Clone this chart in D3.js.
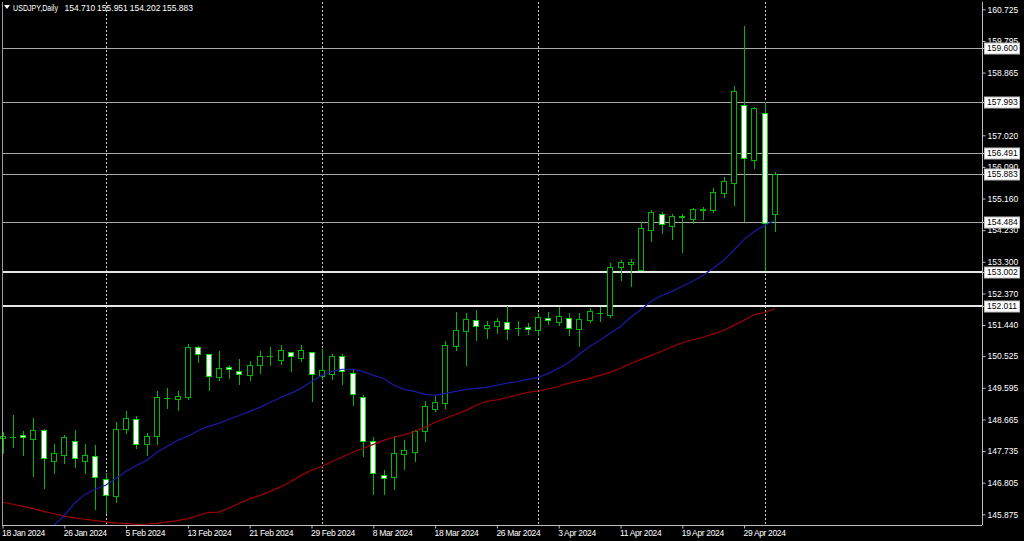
<!DOCTYPE html>
<html><head><meta charset="utf-8">
<script src="https://cdn.jsdelivr.net/npm/d3@7"></script>
<style>
html,body{margin:0;padding:0;background:#000;}
svg{display:block;}
text{font-family:"Liberation Sans",Arial,sans-serif;}
</style>
</head><body>
<svg id="chart" width="1024" height="541"></svg>
<script>
// ---------------- DATA ----------------
const dates = [
"2024-01-18","2024-01-19","2024-01-22","2024-01-23","2024-01-24","2024-01-25","2024-01-26","2024-01-29","2024-01-30","2024-01-31",
"2024-02-01","2024-02-02","2024-02-05","2024-02-06","2024-02-07","2024-02-08","2024-02-09","2024-02-12","2024-02-13","2024-02-14",
"2024-02-15","2024-02-16","2024-02-19","2024-02-20","2024-02-21","2024-02-22","2024-02-23","2024-02-26","2024-02-27","2024-02-28",
"2024-02-29","2024-03-01","2024-03-04","2024-03-05","2024-03-06","2024-03-07","2024-03-08","2024-03-11","2024-03-12","2024-03-13",
"2024-03-14","2024-03-15","2024-03-18","2024-03-19","2024-03-20","2024-03-21","2024-03-22","2024-03-25","2024-03-26","2024-03-27",
"2024-03-28","2024-03-29","2024-04-01","2024-04-02","2024-04-03","2024-04-04","2024-04-05","2024-04-08","2024-04-09","2024-04-10",
"2024-04-11","2024-04-12","2024-04-15","2024-04-16","2024-04-17","2024-04-18","2024-04-19","2024-04-22","2024-04-23","2024-04-24",
"2024-04-25","2024-04-26","2024-04-29","2024-04-30","2024-05-01","2024-05-02"];

const open = [
148.11,148.14,148.22,148.10,148.34,147.45,147.61,148.04,147.45,147.58,
146.90,146.42,148.39,148.68,147.93,148.19,149.30,149.26,149.32,150.79,
150.59,149.92,150.22,150.10,149.96,150.28,150.52,150.42,150.66,150.48,
150.64,149.95,150.01,150.52,150.04,149.32,148.02,147.04,146.97,147.65,
147.71,148.31,148.97,149.15,150.83,151.26,151.60,151.34,151.42,151.52,
151.34,151.38,151.28,151.65,151.53,151.66,151.32,151.59,151.80,151.73,
153.15,153.23,153.05,154.23,154.72,154.36,154.63,154.57,154.83,154.83,
155.32,155.62,157.90,156.28,157.68,154.71];
const high = [
148.29,148.80,148.31,148.72,148.39,147.95,148.22,148.34,147.93,147.92,
147.10,148.59,148.90,148.78,148.28,149.50,149.59,149.50,150.89,150.81,
150.60,150.67,150.26,150.45,150.39,150.68,150.78,150.85,150.66,150.85,
150.64,150.73,150.60,150.60,150.11,149.39,148.15,147.17,148.18,148.05,
148.36,149.20,149.35,150.96,151.82,151.78,151.87,151.56,151.64,151.99,
151.55,151.50,151.79,151.81,151.97,151.78,151.78,151.95,151.97,153.26,
153.34,153.39,154.47,154.81,154.76,154.72,154.72,154.88,154.91,155.48,
155.78,158.46,160.23,157.85,158.00,155.95];
const low = [
147.68,147.85,147.63,146.99,146.65,147.09,147.39,147.26,147.10,146.02,
145.92,146.23,148.26,147.81,147.63,147.93,149.01,148.93,149.26,150.35,
149.54,149.83,149.89,149.70,149.83,150.03,150.28,150.29,150.08,150.37,
149.22,149.86,149.84,149.71,149.10,147.58,146.48,146.48,146.63,147.22,
147.43,148.02,148.91,149.00,150.71,150.27,151.01,151.06,151.21,151.02,
151.16,151.17,151.15,151.46,151.45,151.14,150.81,151.54,151.56,151.68,
152.76,152.58,153.05,153.90,154.16,153.96,153.59,154.44,154.55,154.75,
155.21,154.96,154.49,156.06,153.05,154.20];
const close = [
148.17,148.15,148.15,148.36,147.52,147.67,148.15,147.52,147.62,146.97,
146.45,148.39,148.72,147.95,148.19,149.32,149.29,149.36,150.79,150.60,
149.94,150.18,150.16,150.01,150.28,150.53,150.53,150.72,150.53,150.72,
150.00,150.13,150.53,150.08,149.42,148.03,147.10,146.95,147.67,147.78,
148.31,149.07,149.17,150.86,151.28,151.61,151.42,151.43,151.55,151.33,
151.36,151.31,151.67,151.58,151.72,151.34,151.63,151.85,151.79,153.15,
153.29,153.29,154.28,154.75,154.42,154.66,154.64,154.84,154.85,155.34,
155.67,158.31,156.35,157.83,154.45,155.88];

// moving averages (blue = fast, red = slow)
const maFast = [
144.11,144.40,144.70,144.99,145.25,145.55,145.84,146.20,146.46,146.61,
146.73,146.93,147.14,147.31,147.46,147.70,147.87,148.05,148.17,148.34,
148.46,148.55,148.67,148.78,148.90,149.02,149.17,149.31,149.43,149.58,
149.78,149.96,150.08,150.14,150.14,150.08,149.96,149.87,149.67,149.55,
149.49,149.40,149.37,149.43,149.49,149.55,149.58,149.61,149.67,149.73,
149.78,149.84,149.90,150.02,150.17,150.34,150.58,150.81,150.99,151.20,
151.40,151.67,151.90,152.14,152.31,152.43,152.58,152.73,152.90,153.11,
153.34,153.64,153.96,154.20,154.37,154.52];
const maSlow = [
146.23,146.17,146.11,146.04,145.96,145.89,145.82,145.77,145.73,145.69,
145.65,145.62,145.60,145.58,145.59,145.61,145.65,145.69,145.75,145.84,
145.93,145.94,146.06,146.20,146.33,146.43,146.55,146.68,146.84,147.02,
147.17,147.28,147.43,147.56,147.70,147.81,147.93,148.05,148.14,148.21,
148.31,148.43,148.58,148.70,148.81,148.93,149.08,149.20,149.24,149.31,
149.39,149.46,149.50,149.56,149.64,149.73,149.80,149.87,149.96,150.05,
150.17,150.31,150.43,150.55,150.67,150.80,150.92,151.00,151.08,151.18,
151.28,151.43,151.58,151.75,151.81,151.92];

const priceTicks = [160.725,159.795,158.865,157.020,156.090,155.160,154.230,153.300,
                    152.370,151.440,150.525,149.595,148.665,147.735,146.805,145.875];
const levels = [159.600,157.993,156.491,155.883,154.484,153.002,152.011];
const majorLevels = [153.002,152.011];
const dateTicks = ["2024-01-18","2024-01-26","2024-02-05","2024-02-13","2024-02-21","2024-02-29",
                   "2024-03-08","2024-03-18","2024-03-26","2024-04-03","2024-04-11","2024-04-19","2024-04-29"];
const monthStarts = ["2024-02-01","2024-03-01","2024-04-01","2024-05-01"];
const symbol = "USDJPY,Daily";
const lastQuote = [154.710, 155.951, 154.202, 155.883];

// ---------------- LAYOUT ----------------
const W = 1024, H = 541;
const plotL = 2, plotR = 982, plotT = 2, plotB = 525;
const svg = d3.select("#chart");
svg.append("rect").attr("width", W).attr("height", H).attr("fill", "#000");

const x = d3.scalePoint().domain(dates).range([2.5, 2.5 + 10.3 * (dates.length - 1)]);
const y = d3.scaleLinear().domain([145.875, 160.725]).range([514.3, 9.3]);
const px = v => Math.round(v);

svg.append("clipPath").attr("id", "clip")
  .append("rect").attr("x", 0).attr("y", plotT).attr("width", plotR).attr("height", plotB - plotT);
const plot = svg.append("g").attr("clip-path", "url(#clip)");

// month separators (dotted)
plot.selectAll("line.sep").data(monthStarts).enter().append("line")
  .attr("x1", d => px(x(d)) + 0.5).attr("x2", d => px(x(d)) + 0.5)
  .attr("y1", plotT).attr("y2", plotB)
  .attr("stroke", "#c8c8c8").attr("stroke-width", 1).attr("stroke-dasharray", "2,2");

// horizontal levels
plot.selectAll("line.lvl").data(levels).enter().append("line")
  .attr("x1", plotL).attr("x2", plotR)
  .attr("y1", d => majorLevels.includes(d) ? px(y(d)) : px(y(d)) + 0.5)
  .attr("y2", d => majorLevels.includes(d) ? px(y(d)) : px(y(d)) + 0.5)
  .attr("stroke", d => majorLevels.includes(d) ? "#e6e6e6" : "#aaaaaa")
  .attr("stroke-width", d => majorLevels.includes(d) ? 2 : 1);

// candles
const bars = dates.map((d, i) => ({d, o: open[i], h: high[i], l: low[i], c: close[i]}));
const candle = plot.selectAll("g.c").data(bars).enter().append("g");
const green = "#00b800";
candle.append("line")
  .attr("x1", b => px(x(b.d)) + 0.5).attr("x2", b => px(x(b.d)) + 0.5)
  .attr("y1", b => px(y(b.h))).attr("y2", b => px(y(b.l)) + 1)
  .attr("stroke", green).attr("stroke-width", 1);
candle.each(function(b) {
  const g = d3.select(this);
  const cx = px(x(b.d));
  const yt = px(y(Math.max(b.o, b.c))), yb = px(y(Math.min(b.o, b.c)));
  if (yb - yt < 1) {
    g.append("line").attr("x1", cx - 3).attr("x2", cx + 3)
      .attr("y1", yt + 0.5).attr("y2", yt + 0.5)
      .attr("stroke", green).attr("stroke-width", 1);
  } else {
    g.append("rect").attr("x", cx - 2.5).attr("y", yt + 0.5)
      .attr("width", 5).attr("height", yb - yt)
      .attr("fill", b.c >= b.o ? "#000" : "#fff")
      .attr("stroke", b.c >= b.o ? green : "#00d800").attr("stroke-width", 1);
  }
});

// moving averages
const line = d3.line().x((v, i) => x(dates[i])).y(v => y(v));
plot.append("path").datum(maSlow).attr("d", line)
  .attr("fill", "none").attr("stroke", "#a00000").attr("stroke-width", 1.2);
plot.append("path").datum(maFast).attr("d", line)
  .attr("fill", "none").attr("stroke", "#1a1aa8").attr("stroke-width", 1.2);

// frame
svg.append("line").attr("x1", plotL + 0.5).attr("x2", plotL + 0.5).attr("y1", plotT).attr("y2", plotB)
  .attr("stroke", "#9a9a9a");

// right axis
const yAxis = d3.axisRight(y).tickValues(priceTicks).tickFormat(d3.format(".3f")).tickSize(3).tickPadding(2);
const ga = svg.append("g").attr("transform", `translate(${plotR + 0.5},0)`).call(yAxis);
ga.select(".domain").attr("stroke", "#c0c0c0").attr("d", `M0,${plotT}V${plotB}`);
ga.selectAll(".tick line").attr("stroke", "#c0c0c0");
ga.selectAll(".tick text").attr("fill", "#fff").attr("font-size", "8.5px")
  .attr("font-family", "Liberation Sans, Arial, sans-serif");

// bottom axis
const xAxis = d3.axisBottom(x).tickValues(dateTicks)
  .tickFormat(d => d3.timeFormat("%-d %b %Y")(d3.timeParse("%Y-%m-%d")(d))).tickSize(3).tickPadding(2);
const gb = svg.append("g").attr("transform", `translate(0,${plotB + 0.5})`).call(xAxis);
gb.select(".domain").attr("stroke", "#c0c0c0").attr("d", `M${plotL},0H${plotR}`);
gb.selectAll(".tick line").attr("stroke", "#c0c0c0");
gb.selectAll(".tick text").attr("fill", "#fff").attr("font-size", "8.5px")
  .attr("font-family", "Liberation Sans, Arial, sans-serif")
  .attr("text-anchor", "start").attr("x", -1).attr("dy", "0.71em").attr("y", 4)
  .attr("letter-spacing", "-0.35px");

// level price boxes
const boxes = svg.selectAll("g.box").data(levels).enter().append("g")
  .attr("transform", d => `translate(0,${px(y(d))})`);
boxes.append("line").attr("x1", plotR).attr("x2", 985).attr("y1", 0.5).attr("y2", 0.5).attr("stroke", "#c0c0c0");
boxes.append("rect").attr("x", 984.5).attr("y", -5).attr("width", 35).attr("height", 11)
  .attr("fill", "#fff").attr("stroke", "#c0c0c0").attr("stroke-width", 1);
boxes.append("text").attr("x", 987).attr("y", 0.5).attr("dy", "0.35em")
  .attr("font-size", "8.5px").attr("fill", "#000").text(d => d3.format(".3f")(d));

// header
svg.append("path").attr("d", "M4,5L10,5L7,9Z").attr("fill", "#fff");
svg.append("text").attr("x", 13).attr("y", 10.5).attr("fill", "#fff").attr("font-size", "8.5px")
  .attr("textLength", 45).attr("lengthAdjust", "spacingAndGlyphs").text(symbol);
svg.selectAll("text.q").data(lastQuote).enter().append("text")
  .attr("x", (d, i) => 64.5 + i * 32.6).attr("y", 10.5).attr("fill", "#fff").attr("font-size", "8.5px")
  .text(d => d3.format(".3f")(d));
</script>
</body></html>
